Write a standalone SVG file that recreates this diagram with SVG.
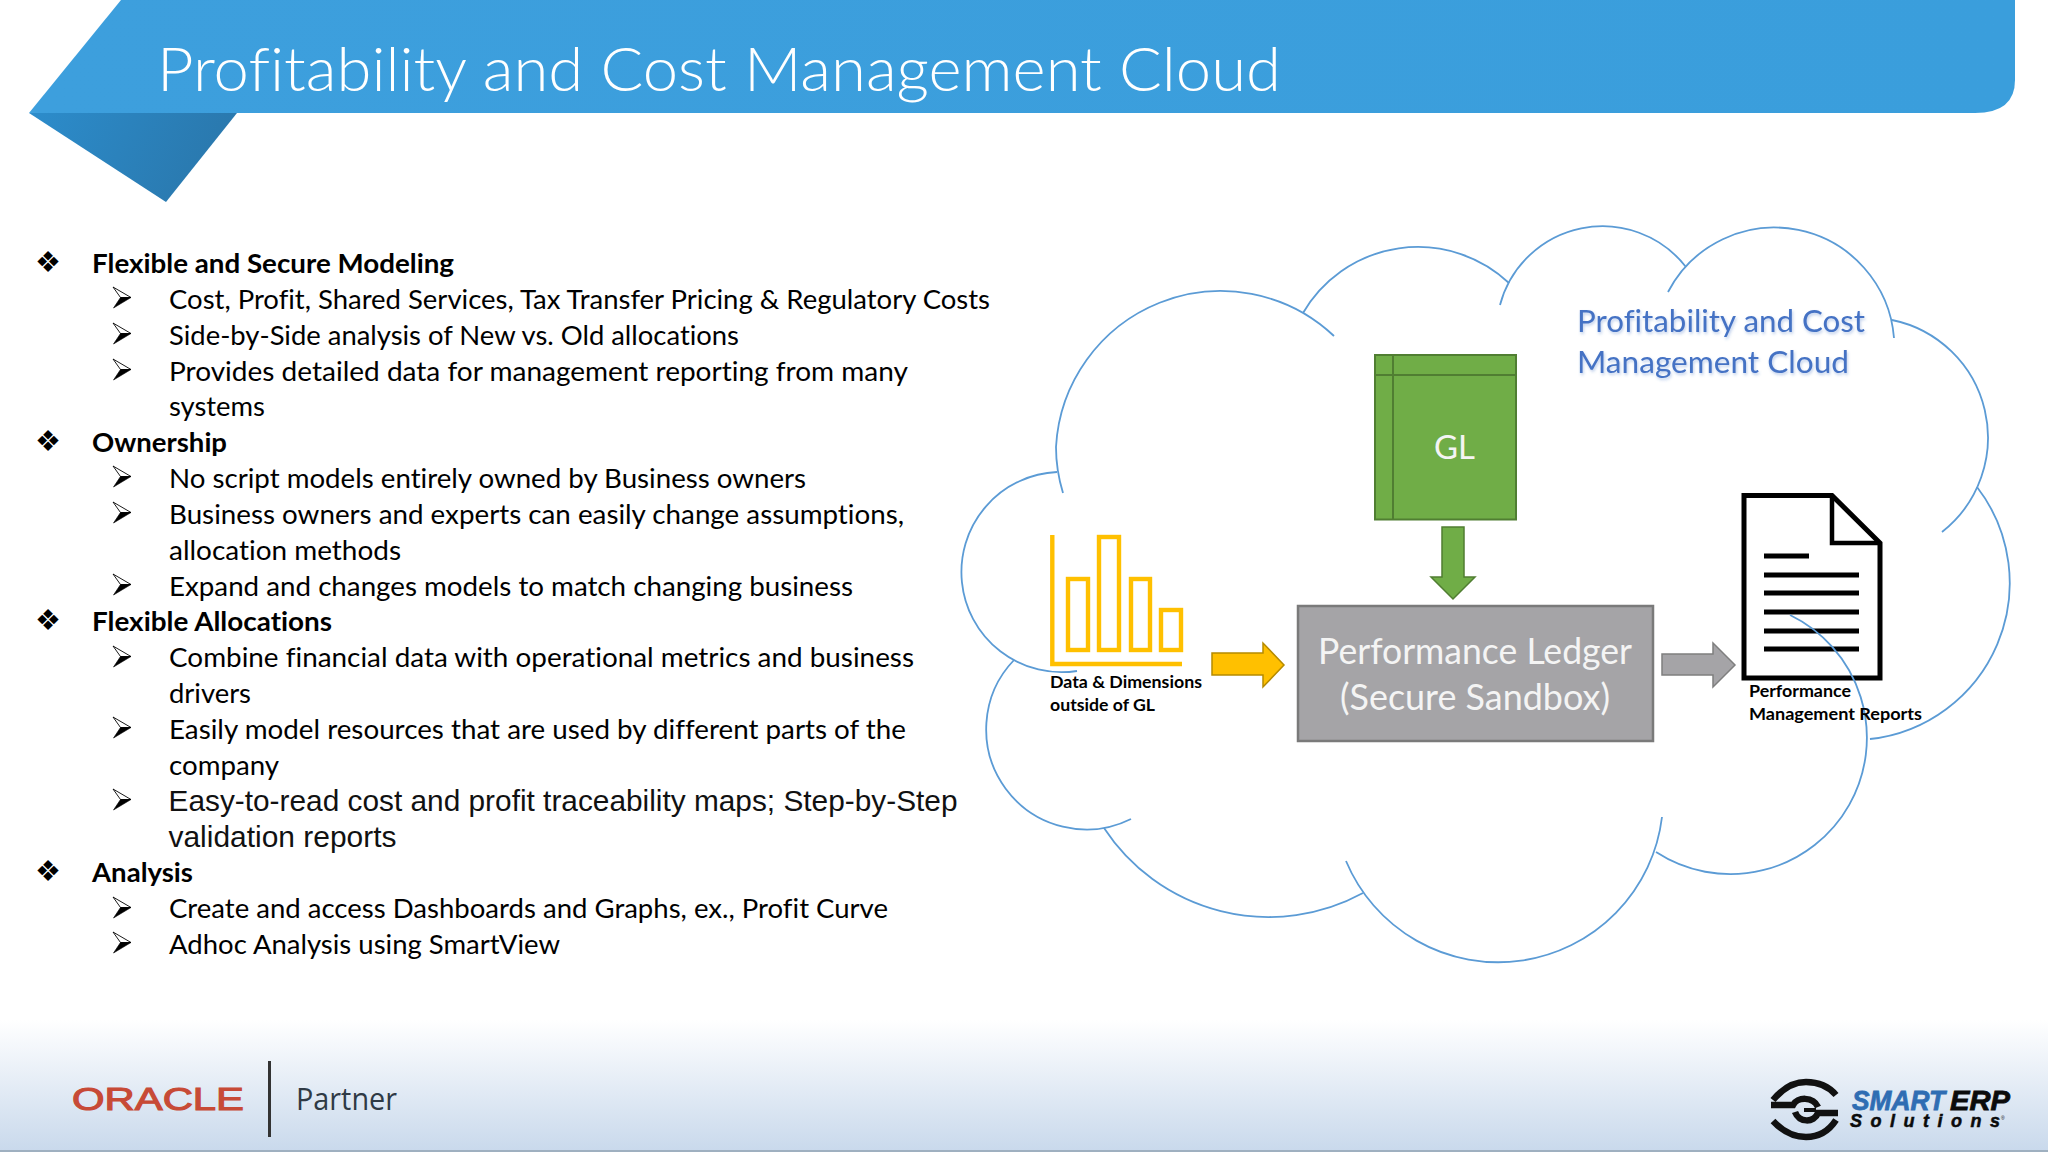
<svg xmlns="http://www.w3.org/2000/svg" width="2048" height="1152" viewBox="0 0 2048 1152">
<style>
text{font-variant-ligatures:none}
.t{font-family:"Lato","Carlito","Noto Sans",sans-serif;font-size:26.5px;fill:#000}
.b{font-weight:700}
.ar{font-family:"Liberation Sans",Arial,sans-serif;font-size:29px;fill:#111}
.k{font-family:"DejaVu Sans",sans-serif;font-size:29px;fill:#000}
.lab{font-family:"Lato","Noto Sans",sans-serif;font-size:17.5px;font-weight:700;fill:#000}
.wh{font-family:"Lato","Noto Sans",sans-serif;font-size:36px;fill:#f4f4f4}
.cl{fill:none;stroke:#5b9bd5;stroke-width:1.8}
.bar{fill:none;stroke:#ffc000;stroke-width:4.4}
.dl{stroke:#000;stroke-width:5;fill:none}
</style>
<defs>
<linearGradient id="foot" x1="0" y1="0" x2="0" y2="1"><stop offset="0" stop-color="#ffffff"/><stop offset="1" stop-color="#c9d9ec"/></linearGradient>
<linearGradient id="fold" x1="0" y1="0" x2="1" y2="0.2"><stop offset="0" stop-color="#2c8ccb"/><stop offset="1" stop-color="#2a78ad"/></linearGradient>
<linearGradient id="ban" x1="0" y1="0" x2="1" y2="0"><stop offset="0" stop-color="#3d9fdd"/><stop offset="1" stop-color="#3a9edc"/></linearGradient>
<filter id="sh" x="-5%" y="-10%" width="110%" height="130%"><feDropShadow dx="1" dy="2" stdDeviation="1.5" flood-color="#4472c4" flood-opacity="0.35"/></filter>
<g id="arrowbullet">
<path d="M0,0 L18,10.500 L7.500,10.500 Z" fill="#fff" stroke="#000" stroke-width="0.9" stroke-linejoin="miter"/>
<path d="M7.500,10.500 H18 L0.500,21 Z" fill="#000" stroke="#000" stroke-width="0.6"/>
</g>
</defs>
<rect width="2048" height="1152" fill="#ffffff"/>
<g id="banner">
<polygon points="29,113 237,113 166,202" fill="url(#fold)"/>
<path d="M121,0 H2015 V80 Q2015,113 1975,113 H29 Z" fill="url(#ban)"/>
<text x="157" y="91" font-family="Lato,'Noto Sans',sans-serif" font-weight="300" font-size="61" fill="#fff" textLength="1124" lengthAdjust="spacingAndGlyphs">Profitability and Cost Management Cloud</text>
</g>
<g id="footer">
<rect x="0" y="1020" width="2048" height="131" fill="url(#foot)"/>
<rect x="0" y="1150" width="2048" height="2" fill="#9fb0c0"/>
<text x="72" y="1110" font-family="'Liberation Sans',sans-serif" font-size="32" fill="#c74a36" stroke="#c74a36" stroke-width="1.1" textLength="172" lengthAdjust="spacingAndGlyphs">ORACLE</text>
<rect x="268" y="1061" width="3" height="76" fill="#333"/>
<text x="296" y="1110" font-family="'Open Sans','Noto Sans',sans-serif" font-size="31" fill="#2f3a45" textLength="101" lengthAdjust="spacingAndGlyphs">Partner</text>
<g fill="none" stroke="#111" stroke-width="6.500">
<path d="M1773,1100 Q1788,1082 1806,1082 Q1825,1082 1836,1095"/>
<path d="M1773,1121 Q1788,1137 1806,1137 Q1825,1137 1836,1120"/>
<path d="M1771,1105 H1793 C1797,1097 1813,1096 1818,1107"/>
<path d="M1838,1113 H1818 C1814,1123 1799,1123 1795,1112"/>
<path d="M1804,1110 H1816" stroke-width="4"/>
</g>
<text x="1852" y="1110" font-family="'Liberation Sans',sans-serif" font-weight="700" font-style="italic" font-size="28" fill="#2f6db3" stroke="#2f6db3" stroke-width="0.8" textLength="93" lengthAdjust="spacingAndGlyphs">SMART</text>
<text x="1950" y="1110" font-family="'Liberation Sans',sans-serif" font-weight="700" font-style="italic" font-size="28" fill="#0b0b0b" stroke="#0b0b0b" stroke-width="0.8" textLength="60" lengthAdjust="spacingAndGlyphs">ERP</text>
<text x="1850" y="1127" font-family="'Liberation Sans',sans-serif" font-weight="700" font-style="italic" font-size="18" fill="#0b0b0b" stroke="#0b0b0b" stroke-width="0.5" textLength="150" lengthAdjust="spacing">Solutions</text>
<text x="2001" y="1120" font-family="'Liberation Sans',sans-serif" font-size="5" fill="#0b0b0b">®</text>
</g>
<g id="bullets">
<text class="k" x="35" y="272">❖</text><text class="k" x="35" y="451">❖</text><text class="k" x="35" y="630">❖</text><text class="k" x="35" y="881">❖</text>
<use href="#arrowbullet" x="113" y="287"/><use href="#arrowbullet" x="113" y="323"/><use href="#arrowbullet" x="113" y="359"/>
<use href="#arrowbullet" x="113" y="466"/><use href="#arrowbullet" x="113" y="502"/><use href="#arrowbullet" x="113" y="574"/>
<use href="#arrowbullet" x="113" y="646"/><use href="#arrowbullet" x="113" y="717"/><use href="#arrowbullet" x="113" y="789"/>
<use href="#arrowbullet" x="113" y="897"/><use href="#arrowbullet" x="113" y="932"/>
</g>
<g id="body">
<text class="t b" x="92" y="272.500" textLength="362" lengthAdjust="spacingAndGlyphs">Flexible and Secure Modeling</text>
<text class="t" x="169" y="308.800" textLength="821" lengthAdjust="spacingAndGlyphs">Cost, Profit, Shared Services, Tax Transfer Pricing &amp; Regulatory Costs</text>
<text class="t" x="169" y="344.600" textLength="570" lengthAdjust="spacingAndGlyphs">Side-by-Side analysis of New vs. Old allocations</text>
<text class="t" x="169" y="380.500" textLength="739" lengthAdjust="spacingAndGlyphs">Provides detailed data for management reporting from many</text>
<text class="t" x="169" y="416.300" textLength="96" lengthAdjust="spacingAndGlyphs">systems</text>
<text class="t b" x="92" y="452" textLength="135" lengthAdjust="spacingAndGlyphs">Ownership</text>
<text class="t" x="169" y="488" textLength="637" lengthAdjust="spacingAndGlyphs">No script models entirely owned by Business owners</text>
<text class="t" x="169" y="523.900" textLength="735" lengthAdjust="spacingAndGlyphs">Business owners and experts can easily change assumptions,</text>
<text class="t" x="169" y="559.700" textLength="232" lengthAdjust="spacingAndGlyphs">allocation methods</text>
<text class="t" x="169" y="595.600" textLength="684" lengthAdjust="spacingAndGlyphs">Expand and changes models to match changing business</text>
<text class="t b" x="92" y="631.200" textLength="240" lengthAdjust="spacingAndGlyphs">Flexible Allocations</text>
<text class="t" x="169" y="667.300" textLength="745" lengthAdjust="spacingAndGlyphs">Combine financial data with operational metrics and business</text>
<text class="t" x="169" y="703.100" textLength="82" lengthAdjust="spacingAndGlyphs">drivers</text>
<text class="t" x="169" y="739" textLength="737" lengthAdjust="spacingAndGlyphs">Easily model resources that are used by different parts of the</text>
<text class="t" x="169" y="774.800" textLength="110" lengthAdjust="spacingAndGlyphs">company</text>
<text class="ar" x="168.500" y="811" textLength="789" lengthAdjust="spacingAndGlyphs">Easy-to-read cost and profit traceability maps; Step-by-Step</text>
<text class="ar" x="168.500" y="847" textLength="228" lengthAdjust="spacingAndGlyphs">validation reports</text>
<text class="t b" x="92" y="882.200" textLength="101" lengthAdjust="spacingAndGlyphs">Analysis</text>
<text class="t" x="169" y="918.200" textLength="719" lengthAdjust="spacingAndGlyphs">Create and access Dashboards and Graphs, ex., Profit Curve</text>
<text class="t" x="169" y="954.100" textLength="391" lengthAdjust="spacingAndGlyphs">Adhoc Analysis using SmartView</text>
</g>
<g id="reports">
<path d="M1744,495.500 H1832 L1880,543 V678 H1744 Z" fill="#fff" stroke="#000" stroke-width="5"/>
<path d="M1832,495.500 V543 H1880" fill="none" stroke="#000" stroke-width="4.500"/>
<path class="dl" d="M1764,556 H1809 M1764,575 H1859 M1764,593 H1859 M1764,612 H1859 M1764,631 H1859 M1764,649 H1859"/>
</g>
<g id="cloud">
<path class="cl" d="M1063,493 Q1056,470 1056,447 A165,165 0 0 1 1334,336"/>
<path class="cl" d="M1303,313 A133,133 0 0 1 1509,283"/>
<path class="cl" d="M1500,305 A106,106 0 0 1 1686,267"/>
<path class="cl" d="M1668,292 A120,120 0 0 1 1894,338"/>
<path class="cl" d="M1892,320 A120,120 0 0 1 1942,532"/>
<path class="cl" d="M1977,487 A157,157 0 0 1 1870,739"/>
<path class="cl" d="M1790,615 A136.400,136.400 0 1 1 1656,852"/>
<path class="cl" d="M1662,817 A165,165 0 0 1 1346,861"/>
<path class="cl" d="M1363,893 A197,197 0 0 1 1104,828"/>
<path class="cl" d="M1131,819 A100.200,100.200 0 0 1 1014,660"/>
<path class="cl" d="M1077,671 A100.150,100.150 0 1 1 1057,472"/>
<g filter="url(#sh)" font-family="Lato,'Noto Sans',sans-serif" font-size="31" fill="#4472c4">
<text x="1577" y="332" textLength="288" lengthAdjust="spacingAndGlyphs">Profitability and Cost</text>
<text x="1577" y="373" textLength="272" lengthAdjust="spacingAndGlyphs">Management Cloud</text>
</g>
</g>
<g id="gl">
<rect x="1375" y="355" width="141" height="164.500" fill="#70ad47" stroke="#507e32" stroke-width="2"/>
<path d="M1393,355 V519 M1375,375 H1516" fill="none" stroke="#507e32" stroke-width="2"/>
<text x="1434" y="459" font-family="Lato,'Noto Sans',sans-serif" font-size="33" fill="#f4f4f4" textLength="41" lengthAdjust="spacingAndGlyphs">GL</text>
</g>
<g id="ledger">
<rect x="1298" y="606" width="355" height="135" fill="#a5a4a7" stroke="#7a7a7a" stroke-width="2.500"/>
<text class="wh" x="1318" y="664" textLength="314" lengthAdjust="spacingAndGlyphs">Performance Ledger</text>
<text class="wh" x="1340" y="710" textLength="270" lengthAdjust="spacingAndGlyphs">(Secure Sandbox)</text>
</g>
<g id="data">
<path class="bar" d="M1052.300,535 V664 H1182"/>
<rect class="bar" x="1068" y="579" width="20" height="71"/>
<rect class="bar" x="1099" y="537" width="20" height="113"/>
<rect class="bar" x="1131" y="579" width="19" height="71"/>
<rect class="bar" x="1161" y="610" width="20" height="40"/>
<text class="lab" x="1050" y="688" textLength="152" lengthAdjust="spacingAndGlyphs">Data &amp; Dimensions</text>
<text class="lab" x="1050" y="711" textLength="105" lengthAdjust="spacingAndGlyphs">outside of GL</text>
</g>
<text class="lab" x="1749" y="697" textLength="102" lengthAdjust="spacingAndGlyphs">Performance</text>
<text class="lab" x="1749" y="720" textLength="173" lengthAdjust="spacingAndGlyphs">Management Reports</text>
<g id="connectors">
<polygon points="1442,527 1464,527 1464,577 1475,577 1453,599 1431,577 1442,577" fill="#70ad47" stroke="#507e32" stroke-width="1.500"/>
<polygon points="1212,653 1263,653 1263,643 1284,665 1263,687 1263,675 1212,675" fill="#ffc000" stroke="#b58a00" stroke-width="1.500"/>
<polygon points="1662,654 1713,654 1713,643 1735,665 1713,687 1713,675 1662,675" fill="#a5a4a7" stroke="#7f7f7f" stroke-width="1.500"/>
</g>
</svg>
